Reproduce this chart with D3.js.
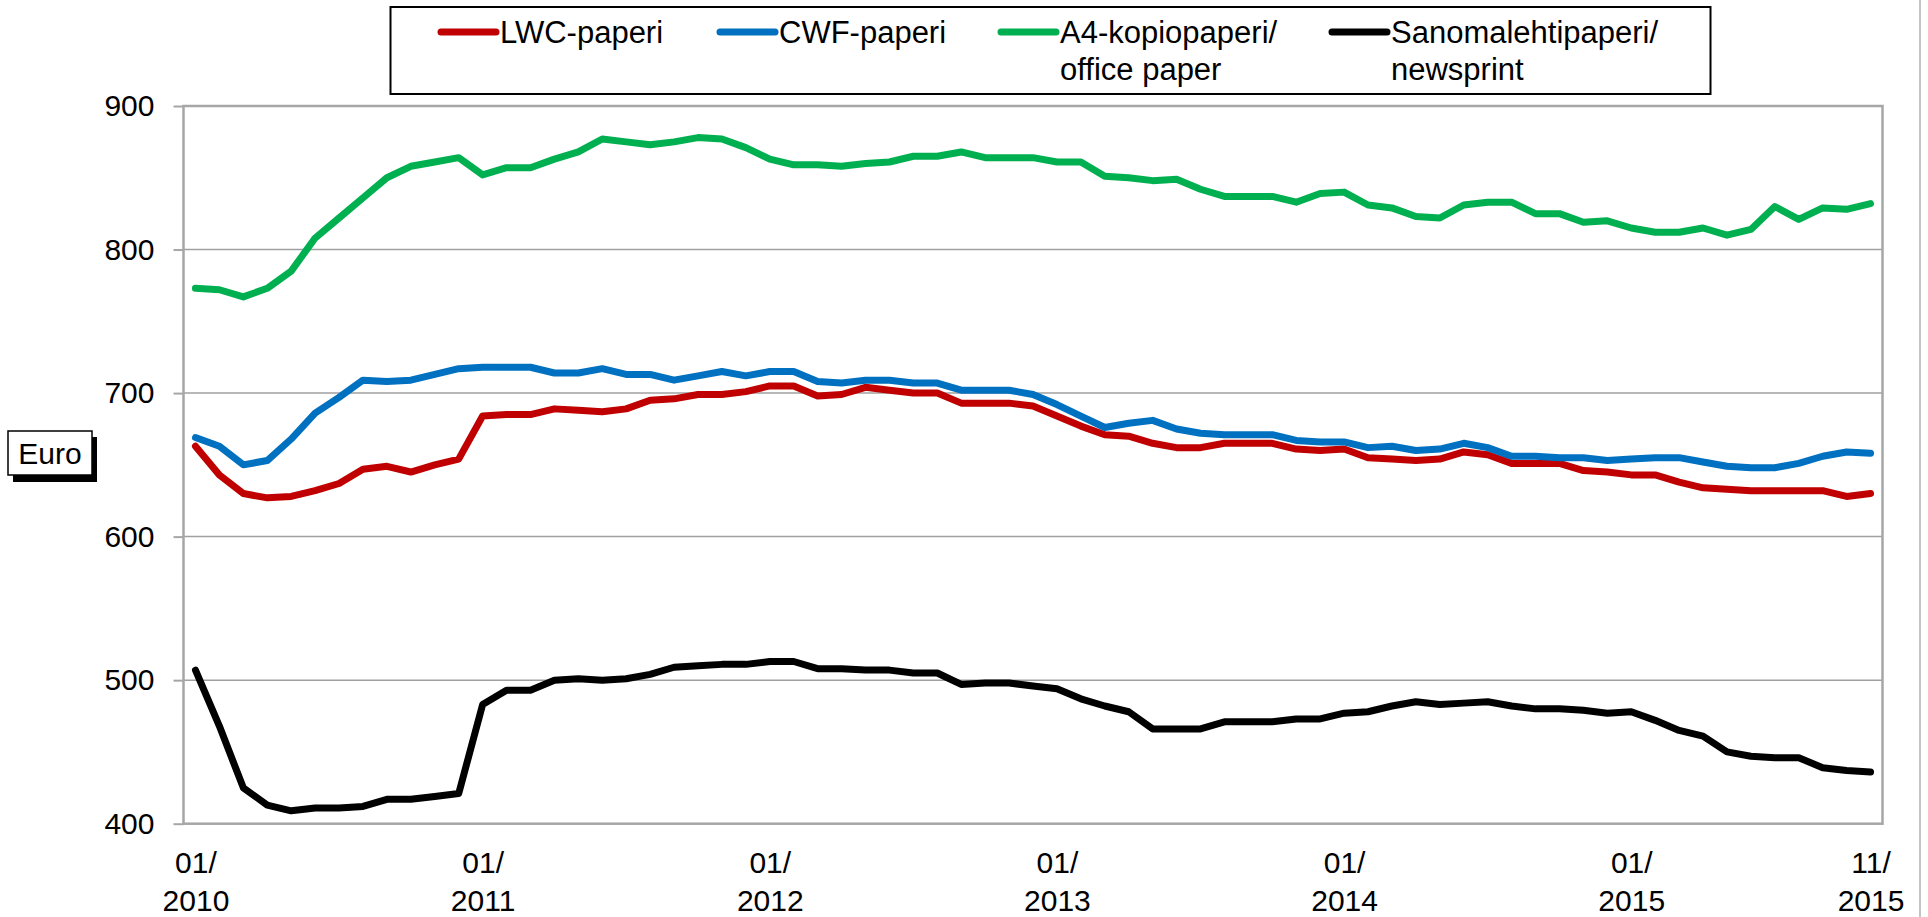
<!DOCTYPE html>
<html>
<head>
<meta charset="utf-8">
<script src="https://cdn.jsdelivr.net/npm/d3@7"></script>
<style>
    body { margin: 0; background: #fff; }
    text { font-family: "Liberation Sans", Arial, sans-serif; fill: #000; }
</style>
</head>
<body>
<div id="chart"></div>
<script>
// months 01/2010 .. 11/2015
var months = [];
for (var yr = 2010; yr <= 2015; yr++) {
    for (var mo = 1; mo <= 12; mo++) {
        if (yr == 2015 && mo > 11) break;
        months.push(yr + "-" + (mo < 10 ? "0" + mo : mo));
    }
}

var tickMonths = ["2010-01", "2011-01", "2012-01", "2013-01", "2014-01", "2015-01", "2015-11"];
var yTicks = [400, 500, 600, 700, 800, 900];

var lwc = [663, 643, 630, 627, 628, 632, 637, 647, 649, 645, 650, 654,
    684, 685, 685, 689, 688, 687, 689, 695, 696, 699, 699, 701,
    705, 705, 698, 699, 704, 702, 700, 700, 693, 693, 693, 691,
    684, 677, 671, 670, 665, 662, 662, 665, 665, 665, 661, 660,
    661, 655, 654, 653, 654, 659, 657, 651, 651, 651, 646, 645,
    643, 643, 638, 634, 633, 632, 632, 632, 632, 628, 630];

var cwf = [669, 663, 650, 653, 668, 686, 697, 709, 708, 709, 713, 717,
    718, 718, 718, 714, 714, 717, 713, 713, 709, 712, 715, 712,
    715, 715, 708, 707, 709, 709, 707, 707, 702, 702, 702, 699,
    692, 684, 676, 679, 681, 675, 672, 671, 671, 671, 667, 666,
    666, 662, 663, 660, 661, 665, 662, 656, 656, 655, 655, 653,
    654, 655, 655, 652, 649, 648, 648, 651, 656, 659, 658];

var a4 = [773, 772, 767, 773, 785, 808, 822, 836, 850, 858, 861, 864,
    852, 857, 857, 863, 868, 877, 875, 873, 875, 878, 877, 871,
    863, 859, 859, 858, 860, 861, 865, 865, 868, 864, 864, 864,
    861, 861, 851, 850, 848, 849, 842, 837, 837, 837, 833, 839,
    840, 831, 829, 823, 822, 831, 833, 833, 825, 825, 819, 820,
    815, 812, 812, 815, 810, 814, 830, 821, 829, 828, 832];

var newsprint = [507, 468, 425, 413, 409, 411, 411, 412, 417, 417, 419, 421,
    483, 493, 493, 500, 501, 500, 501, 504, 509, 510, 511, 511,
    513, 513, 508, 508, 507, 507, 505, 505, 497, 498, 498, 496,
    494, 487, 482, 478, 466, 466, 466, 471, 471, 471, 473, 473,
    477, 478, 482, 485, 483, 484, 485, 482, 480, 480, 479, 477,
    478, 472, 465, 461, 450, 447, 446, 446, 439, 437, 436];

var seriesNames = [["LWC-paperi"], ["CWF-paperi"], ["A4-kopiopaperi/", "office paper"], ["Sanomalehtipaperi/", "newsprint"]];
var seriesColors = ["#c00000", "#0070c0", "#00b050", "#000000"];
var seriesValues = [lwc, cwf, a4, newsprint];

var W = 1928, H = 917;
var plot = { left: 183.5, right: 1882.5, top: 106, bottom: 823.7 };

var svg = d3.select("#chart")
    .append("svg")
    .attr("width", W)
    .attr("height", H);

// scales
var x = d3.scalePoint().domain(months).range([plot.left, plot.right]).padding(0.5);
var y = d3.scaleLinear().domain([400, 900]).range([plot.bottom, plot.top]);

// outer chart border on the right
svg.append("line")
    .attr("x1", 1920).attr("x2", 1920)
    .attr("y1", 0).attr("y2", H)
    .attr("stroke", "#b0b0b0")
    .attr("stroke-width", 1.5);

// gridlines
svg.append("g")
    .selectAll("line")
    .data(yTicks.slice(1, -1))
    .enter()
    .append("line")
    .attr("x1", plot.left).attr("x2", plot.right)
    .attr("y1", function (d) { return y(d); })
    .attr("y2", function (d) { return y(d); })
    .attr("stroke", "#a0a0a0")
    .attr("stroke-width", 1.5);

// plot border
svg.append("rect")
    .attr("x", plot.left).attr("y", plot.top)
    .attr("width", plot.right - plot.left)
    .attr("height", plot.bottom - plot.top)
    .attr("fill", "none")
    .attr("stroke", "#a6a6a6")
    .attr("stroke-width", 2.5);

// Y axis
var yAxis = svg.append("g")
    .attr("transform", "translate(" + plot.left + ",0)")
    .call(d3.axisLeft(y).tickValues(yTicks).tickSize(10).tickPadding(19));
yAxis.select(".domain").remove();
yAxis.selectAll(".tick line").attr("stroke", "#a6a6a6").attr("stroke-width", 2);
yAxis.selectAll(".tick text")
    .attr("font-size", "30px")
    .attr("font-family", "Liberation Sans, Arial, sans-serif")
    .attr("fill", "#000");

// X axis labels (two lines)
var xAxis = svg.append("g")
    .attr("transform", "translate(0," + plot.bottom + ")")
    .call(d3.axisBottom(x).tickValues(tickMonths).tickSize(0).tickFormat(""));
xAxis.select(".domain").remove();
xAxis.selectAll(".tick").each(function (d) {
    var parts = d.split("-");
    var t = d3.select(this).append("text")
        .attr("text-anchor", "middle")
        .attr("font-size", "30px")
        .attr("fill", "#000");
    t.append("tspan").attr("x", 0).attr("y", 49).text(parts[1] + "/");
    t.append("tspan").attr("x", 0).attr("y", 87).text(parts[0]);
});

// series lines
var line = d3.line()
    .x(function (d, i) { return x(months[i]); })
    .y(function (d) { return y(d); });

svg.append("g")
    .selectAll("path")
    .data(seriesValues)
    .enter()
    .append("path")
    .attr("d", line)
    .attr("fill", "none")
    .attr("stroke", function (d, i) { return seriesColors[i]; })
    .attr("stroke-width", 7)
    .attr("stroke-linejoin", "round")
    .attr("stroke-linecap", "round");

// legend
svg.append("rect")
    .attr("x", 390.5).attr("y", 7)
    .attr("width", 1320).attr("height", 87)
    .attr("fill", "#fff")
    .attr("stroke", "#000")
    .attr("stroke-width", 2);

var legendX = [441, 720, 1001, 1332];
var legend = svg.append("g")
    .selectAll("g")
    .data(seriesNames)
    .enter()
    .append("g")
    .attr("transform", function (d, i) { return "translate(" + legendX[i] + ",0)"; });

legend.append("line")
    .attr("x1", 0).attr("x2", 55)
    .attr("y1", 32).attr("y2", 32)
    .attr("stroke", function (d, i) { return seriesColors[i]; })
    .attr("stroke-width", 7)
    .attr("stroke-linecap", "round");

legend.append("text")
    .attr("font-size", "31px")
    .each(function (d) {
        var t = d3.select(this);
        d.forEach(function (s, k) {
            t.append("tspan").attr("x", 59).attr("y", 43 + k * 36.5).text(s);
        });
    });

// "Euro" label box with shadow
svg.append("rect")
    .attr("x", 13).attr("y", 437)
    .attr("width", 84).attr("height", 45)
    .attr("fill", "#000");
svg.append("rect")
    .attr("x", 8).attr("y", 431)
    .attr("width", 84).attr("height", 44)
    .attr("fill", "#fff")
    .attr("stroke", "#000")
    .attr("stroke-width", 1.5);
svg.append("text")
    .attr("x", 50).attr("y", 464)
    .attr("text-anchor", "middle")
    .attr("font-size", "30px")
    .text("Euro");
</script>
</body>
</html>
